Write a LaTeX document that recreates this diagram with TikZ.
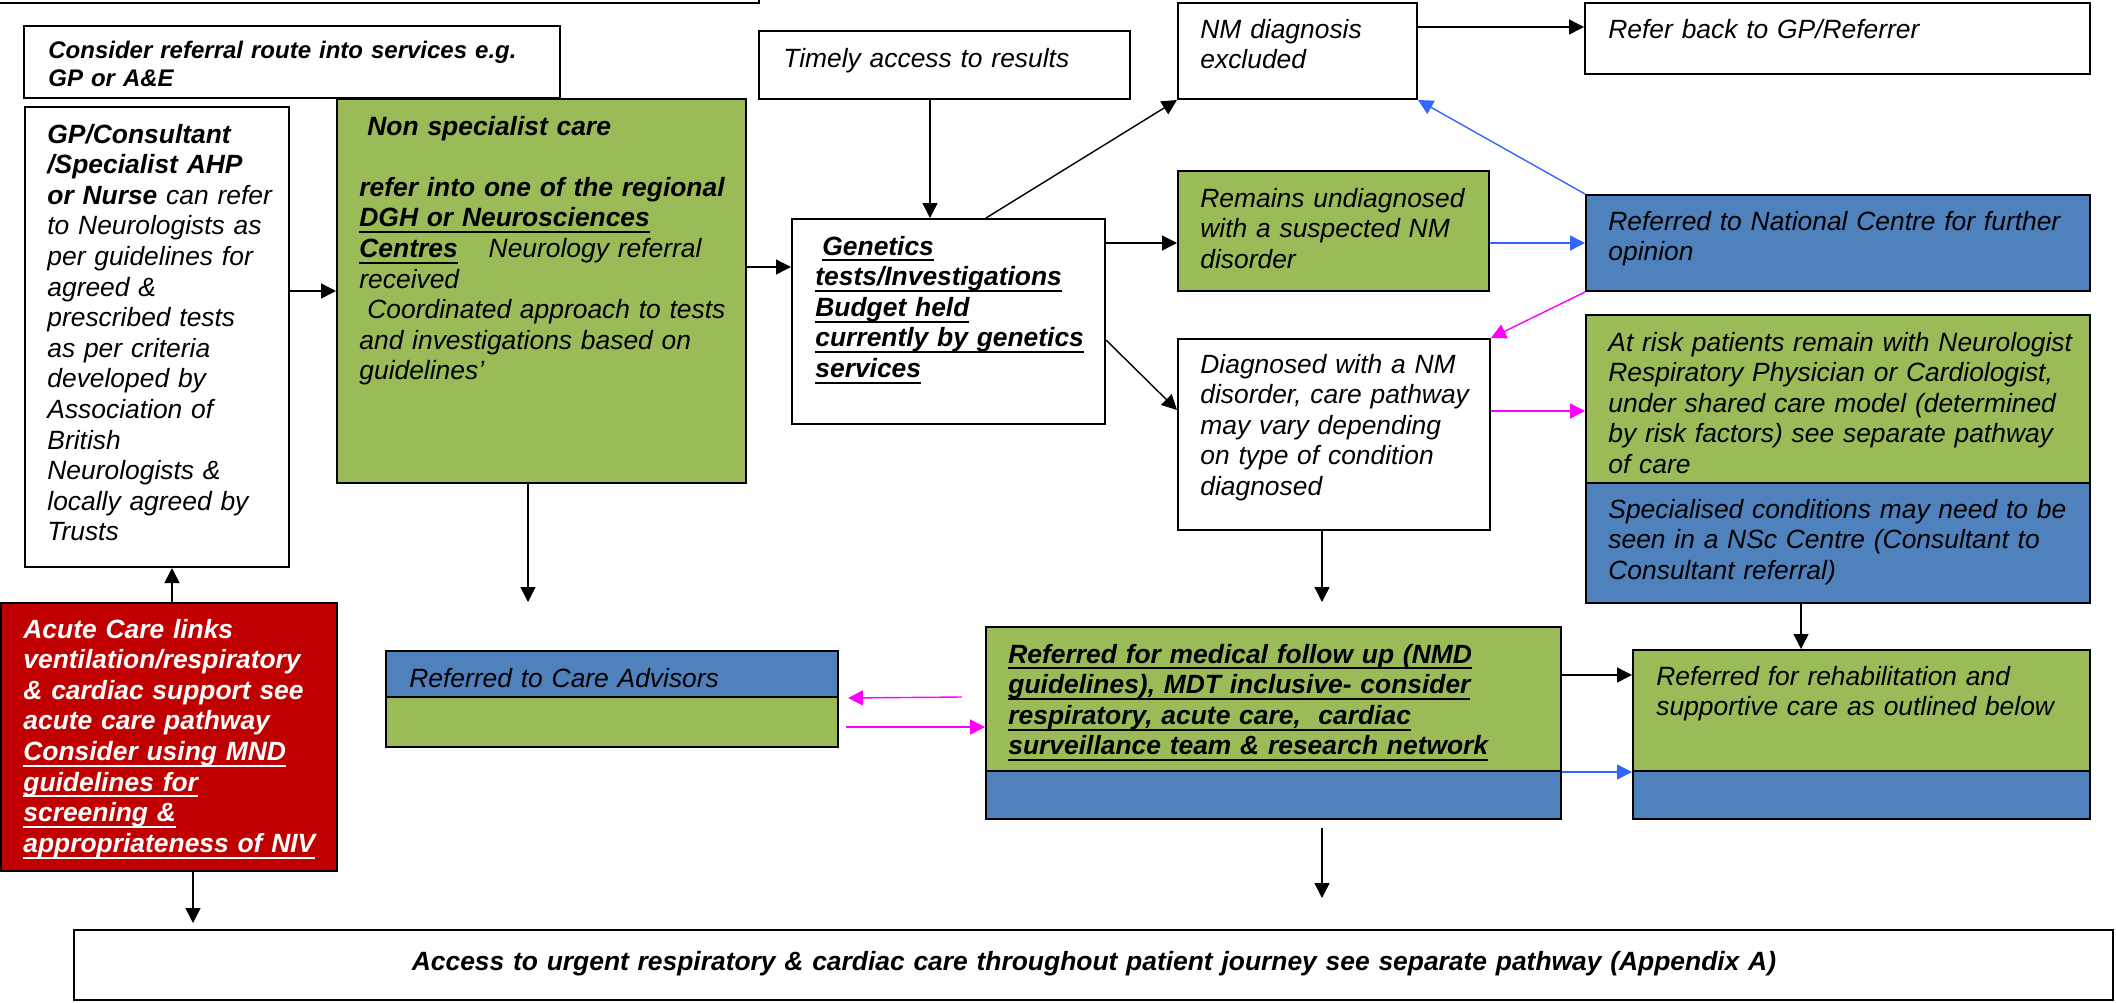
\documentclass[tikz,border=0pt]{standalone}
\usepackage{fontspec}
\setmainfont{Liberation Sans}
\usepackage{tikz}
\usetikzlibrary{arrows.meta,positioning,fit}
\usepackage{xcolor}
\definecolor{caregreen}{HTML}{9BBB59}
\definecolor{careblue}{HTML}{4F81BD}
\definecolor{acutered}{HTML}{C00000}
\definecolor{linkblue}{RGB}{51,102,255}
\definecolor{linkpink}{RGB}{255,0,255}
\newcommand{\pathfont}{\fontsize{13.2pt}{15.3pt}\selectfont}
\newsavebox{\ulnbox}
\newcommand{\uln}[1]{\leavevmode\sbox{\ulnbox}{#1}\rlap{\rule[-3.2pt]{\wd\ulnbox}{1pt}}\usebox{\ulnbox}}

\begin{document}
\begin{tikzpicture}[
    x=0.5pt, y=-0.5pt,
    box/.style={draw, fill=#1, line width=1pt, inner sep=0pt},
    box/.default=white,
    txt/.style={anchor=base west, inner sep=0pt, align=left, text width=#1, font=\pathfont\itshape},
    arr/.style={-{Triangle[length=7.5pt, width=7.5pt]}, line width=0.7pt}
]
\useasboundingbox (0,0) rectangle (2116,1002);
\clip (0,0) rectangle (2116,1002);

% Top row
\node[box, fit={(-20,-40) (759,3)}] (topbox) {};
\node[box, fit={(24,26) (560,98)}] (consider) {};
\node[txt=256pt, font=\fontsize{12pt}{14.3pt}\selectfont\bfseries\itshape] (considerT) at (48,58) {Consider referral route into services e.g.\\ GP or A\&E};
\node[box, fit={(759,31) (1130,99)}] (timely) {};
\node[txt=173pt] (timelyT) at (783,67) {Timely access to results};
\node[box, fit={(1178,3) (1417,99)}] (nmex) {};
\node[txt=108pt] (nmexT) at (1200,38) {NM diagnosis\\ excluded};
\node[box, fit={(1585,3) (2090,74)}] (referback) {};
\node[txt=241pt] (referbackT) at (1608,38) {Refer back to GP/Referrer};

% Referral and regional care
\node[box, fit={(25,107) (289,567)}] (gp) {};
\node[txt=121pt] (gpT) at (47,143) {\textbf{GP/Consultant}\\ \textbf{/Specialist AHP}\\ \textbf{or Nurse} can refer\\ to Neurologists as\\ per guidelines for\\ agreed \&\\ prescribed tests\\ as per criteria\\ developed by\\ Association of\\ British\\ Neurologists \&\\ locally agreed by\\ Trusts};
\node[box=caregreen, fit={(337,99) (746,483)}] (nonspec) {};
\node[txt=193pt] (nonspecT) at (359,135) {\hspace*{4pt}\textbf{Non specialist care}\\[15.3pt] \textbf{refer into one of the regional}\\ \textbf{\uln{DGH or Neurosciences}}\\ \textbf{\uln{Centres}}\hspace{15.5pt}Neurology referral\\ received\\ \hspace*{4pt}Coordinated approach to tests\\ and investigations based on\\ guidelines’};
\node[box, fit={(792,219) (1105,424)}] (genetics) {};
\node[txt=145pt, font=\pathfont\bfseries\itshape] (geneticsT) at (815,255) {\hspace*{3.5pt}\uln{Genetics}\\ \uln{tests/Investigations}\\ \uln{Budget held}\\ \uln{currently by genetics}\\ \uln{services}};

% Outcomes
\node[box=caregreen, fit={(1178,171) (1489,291)}] (remains) {};
\node[txt=144pt] (remainsT) at (1200,207) {Remains undiagnosed\\ with a suspected NM\\ disorder};
\node[box=careblue, fit={(1586,195) (2090,291)}] (nat) {};
\node[txt=241pt] (natT) at (1608,230) {Referred to National Centre for further\\ opinion};
\node[box, fit={(1178,339) (1490,530)}] (diag) {};
\node[txt=145pt] (diagT) at (1200,373) {Diagnosed with a NM\\ disorder, care pathway\\ may vary depending\\ on type of condition\\ diagnosed};
\node[box=caregreen, fit={(1586,315) (2090,483)}] (atrisk) {};
\node[txt=241pt] (atriskT) at (1608,351) {At risk patients remain with Neurologist\\ Respiratory Physician or Cardiologist,\\ under shared care model (determined\\ by risk factors) see separate pathway\\ of care};
\node[box=careblue, fit={(1586,483) (2090,603)}] (spec) {};
\node[txt=241pt] (specT) at (1608,518) {Specialised conditions may need to be\\ seen in a NSc Centre (Consultant to\\ Consultant referral)};

% Acute care and follow up
\node[box=acutered, fit={(1,603) (337,871)}] (acute) {};
\node[txt=157pt, text=white, font=\pathfont\bfseries\itshape] (acuteT) at (23,638) {Acute Care links\\ ventilation/respiratory\\ \& cardiac support see\\ acute care pathway\\ \uln{Consider using MND}\\ \uln{guidelines for}\\ \uln{screening \&}\\ \uln{appropriateness of NIV}};
\node[box=careblue, fit={(386,651) (838,697)}] (careb) {};
\node[box=caregreen, fit={(386,697) (838,747)}] (careg) {};
\node[txt=214pt] (careT) at (409,687) {Referred to Care Advisors};
\node[box=caregreen, fit={(986,627) (1561,771)}] (medg) {};
\node[box=careblue, fit={(986,771) (1561,819)}] (medb) {};
\node[txt=276pt, font=\pathfont\bfseries\itshape] (medT) at (1008,663) {\uln{Referred for medical follow up (NMD}\\ \uln{guidelines), MDT inclusive- consider}\\ \uln{respiratory, acute care,\ \ cardiac}\\ \uln{surveillance team \& research network}};
\node[box=caregreen, fit={(1633,650) (2090,771)}] (rehabg) {};
\node[box=careblue, fit={(1633,771) (2090,819)}] (rehabb) {};
\node[txt=217pt] (rehabT) at (1656,685) {Referred for rehabilitation and\\ supportive care as outlined below};
\node[box, fit={(74,930) (2113,1000)}] (bottom) {};
\node[txt=1000pt, anchor=base, align=center, font=\pathfont\bfseries\itshape] (bottomT) at (1094,970) {Access to urgent respiratory \& cardiac care throughout patient journey see separate pathway (Appendix A)};

% Free ends
\coordinate (nsend) at (528,602);
\coordinate (dgend) at (1322,602);
\coordinate (mdend) at (1322,898);
\coordinate (pkA) at (962,697);
\coordinate (pkB) at (846,727);

% Connectors
\draw[arr] (gp.east |- nonspec.west) -- (nonspec.west);
\draw[arr] (nonspec.east |- 0,267) -- (genetics.west |- 0,267);
\draw[arr] (timely.south -| 930,0) -- (genetics.north -| 930,0);
\draw[arr] (genetics.north -| 986,0) -- (nmex.south west);
\draw[arr] (genetics.east |- 0,243) -- (remains.west |- 0,243);
\draw[arr] (genetics.east |- 0,340) -- (diag.west |- 0,410);
\draw[arr] (nmex.east |- 0,27) -- (referback.west |- 0,27);
\draw[arr, linkblue] (nat.north west) -- (nmex.south east);
\draw[arr, linkblue] (remains.east |- nat.west) -- (nat.west);
\draw[arr, linkpink] (nat.south west) -- (diag.north east);
\draw[arr, linkpink] (diag.east |- 0,411) -- (atrisk.west |- 0,411);
\draw[arr] (nonspec.south -| nsend) -- (nsend);
\draw[arr] (diag.south -| dgend) -- (dgend);
\draw[arr] (spec.south -| 1801,0) -- (rehabg.north -| 1801,0);
\draw[arr] (medg.east |- 0,675) -- (rehabg.west |- 0,675);
\draw[arr, linkblue] (medg.south east) -- (rehabg.south west);
\draw[arr, linkpink] (pkA) -- ([xshift=4.5pt]careb.south east);
\draw[arr, linkpink] (pkB) -- (medg.west |- pkB);
\draw[arr] (acute.north -| 172,0) -- (gp.south -| 172,0);
\draw[arr, shorten >=3pt] (acute.south -| 193,0) -- (bottom.north -| 193,0);
\draw[arr, shorten <=4pt] (medb.south -| mdend) -- (mdend);
\end{tikzpicture}
\end{document}
